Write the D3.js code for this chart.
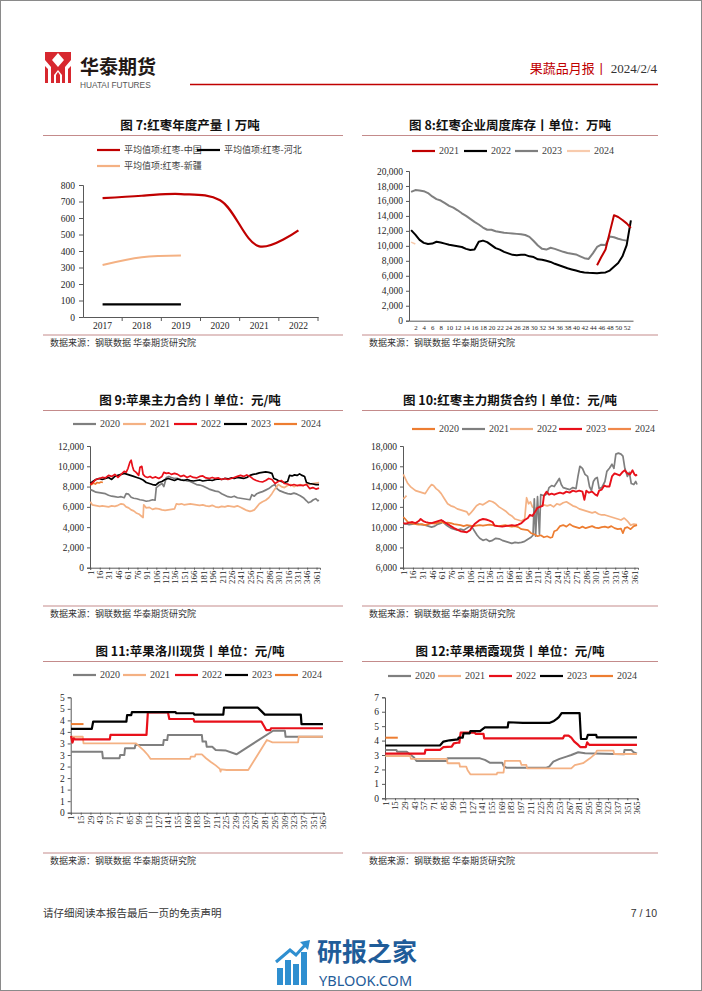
<!DOCTYPE html>
<html><head><meta charset="utf-8">
<script src="https://cdn.jsdelivr.net/npm/d3@7"></script>
<style>body{margin:0;background:#fff;} svg{display:block;}</style>
</head><body>
<svg id="page" width="702" height="991"></svg>
<script>
// ================= DATA =================
// Chart 7: annual jujube production (万吨)
const years7 = ['2017','2018','2019','2020','2021','2022'];
const prodChina = [720, 735, 745, 708, 428, 525];
const prodHebei = [77, 77, 77, null, null, null];
const prodXinjiang = [315, 362, 372, null, null, null];
const names7 = ['平均值项:红枣-中国', '平均值项:红枣-河北', '平均值项:红枣-新疆'];
const yTicks7 = [0, 100, 200, 300, 400, 500, 600, 700, 800];

// Chart 8: weekly jujube stock, by week number
const weekLabels8 = [2,4,6,8,10,12,14,16,18,20,22,24,26,28,30,32,34,36,38,40,42,44,46,48,50,52];
const stock2021 = [[45,7400],[46,8500],[47,9500],[48,11800],[49,14100],[50,13850],[51,13450],[52,13000],[53,12400]];
const stock2022 = [12100,11500,10800,10400,10250,10300,10550,10450,10300,10150,10050,9950,9850,9600,9450,9500,10550,10700,10500,10100,9700,9500,9200,9000,8800,8750,8800,8800,8600,8500,8200,8150,8000,7850,7600,7400,7200,7000,6850,6700,6550,6450,6400,6380,6350,6400,6450,6700,7200,7700,8600,10100,13400];
const stock2023 = [17200,17450,17400,17300,17050,16600,16250,16050,15700,15350,15100,14750,14350,14000,13600,13200,12850,12450,12150,12150,11950,11850,11750,11700,11650,11600,11550,11450,11200,10650,10050,9600,9500,9750,9600,9400,9200,9050,8950,8850,8600,8350,8250,9000,9850,10150,10100,11250,11150,10950,10800,10700];
const stock2024 = [10500, 10250];
const yTicks8 = [0,2000,4000,6000,8000,10000,12000,14000,16000,18000,20000];

// shared day tick labels
const dayLabels15 = [1,16,31,46,61,76,91,106,121,136,151,166,181,196,211,226,241,256,271,286,301,316,331,346,361];
const dayLabels14 = [1,15,29,43,57,71,85,99,113,127,141,155,169,183,197,211,225,239,253,267,281,295,309,323,337,351,365];
const yearNames = ['2020','2021','2022','2023','2024'];

// Chart 9: apple main futures contract [day, 元/吨]
const apple2020 = [[1,7700],[5,7600],[10,7450],[15,7400],[20,7350],[25,7300],[30,7150],[35,7050],[40,7000],[45,6950],[50,7000],[55,6900],[58,7300],[62,7250],[66,6950],[70,6850],[75,6800],[80,6700],[85,6650],[90,6550],[95,6600],[100,6700],[104,6650],[106,7900],[110,8100],[115,8300],[118,8000],[122,8900],[126,9000],[130,8900],[135,8800],[140,8800],[145,8700],[150,8650],[155,8550],[160,8500],[165,8350],[170,8200],[175,8150],[180,8050],[185,7900],[190,7750],[195,7650],[200,7550],[205,7500],[210,7300],[215,7150],[220,7000],[225,6950],[230,7050],[235,6900],[240,6850],[245,6800],[250,6750],[255,6700],[258,7200],[262,7050],[266,7300],[270,7400],[275,7500],[280,7650],[285,7800],[290,8050],[295,8200],[298,7800],[302,7600],[306,7500],[310,7400],[315,7300],[320,7250],[325,7350],[330,7250],[335,7100],[340,6900],[345,6600],[348,6400],[352,6500],[356,6700],[360,6800],[363,6600],[365,6650]];
const apple2021 = [[1,6500],[4,6200],[8,6150],[12,6100],[16,6050],[20,6100],[25,6050],[30,6000],[35,6100],[40,6050],[45,6150],[50,6300],[54,6250],[58,6000],[62,5900],[66,5700],[70,5600],[74,5400],[78,5300],[82,5100],[85,4950],[86,6200],[90,5900],[95,5950],[100,5750],[105,5850],[110,5800],[115,5700],[120,5650],[125,5700],[130,5750],[135,5800],[138,6300],[142,6250],[146,6300],[150,6200],[155,6250],[160,6300],[165,6250],[170,6200],[175,6150],[180,6200],[185,6100],[190,6050],[195,6150],[200,6000],[205,5950],[210,6050],[215,6000],[220,6100],[225,6050],[230,6000],[235,6100],[240,5950],[245,5800],[250,5650],[255,5550],[258,5600],[262,5700],[266,6000],[270,6300],[275,6500],[280,6650],[285,6900],[290,7300],[294,7700],[298,8000],[300,8200],[305,8000],[310,7900],[315,8100],[320,8200],[325,8000],[330,8100],[335,8200],[340,8100],[345,8250],[350,8200],[355,8300],[360,8350],[365,8400]];
const apple2022 = [[1,8200],[5,8400],[10,8700],[15,8800],[20,8900],[25,8850],[30,9100],[35,9000],[40,9200],[45,8900],[50,9200],[55,9500],[58,9400],[61,9800],[64,10400],[66,10600],[68,10000],[70,9600],[74,9400],[78,9100],[80,9900],[83,10000],[85,9200],[88,9000],[92,8900],[96,9000],[100,8850],[105,8950],[110,8800],[115,9000],[118,9400],[122,9300],[126,9350],[130,9200],[135,9300],[140,9200],[145,9000],[150,9100],[155,8900],[160,9050],[165,8900],[170,8850],[175,9000],[180,9050],[185,8850],[190,8800],[195,8900],[200,8800],[205,8850],[210,8700],[215,8800],[220,8700],[225,8800],[230,8900],[235,9000],[240,9100],[245,9000],[250,9150],[255,9000],[260,8750],[265,8600],[270,8500],[275,8450],[280,8600],[285,8800],[290,8700],[295,8300],[300,8500],[305,8600],[310,8300],[315,8250],[320,8100],[325,8200],[330,8100],[335,8150],[340,8100],[345,8200],[350,7800],[355,7900],[360,7750],[365,7850]];
const apple2023 = [[1,8300],[5,8500],[10,8700],[15,8800],[20,8700],[25,8800],[30,8900],[35,8700],[40,9000],[45,9100],[50,9200],[55,9300],[60,9200],[65,9100],[70,9000],[75,8900],[80,8800],[85,8650],[90,8400],[95,8300],[100,8200],[105,8150],[110,8400],[115,8500],[120,8700],[125,8800],[130,8700],[135,8600],[140,8750],[145,8650],[150,8600],[155,8700],[160,8600],[165,8550],[170,8600],[175,8650],[180,8550],[185,8600],[190,8650],[195,8600],[200,8700],[205,8750],[210,8700],[215,8800],[220,8750],[225,8850],[230,8800],[235,8900],[240,8850],[245,8800],[250,8900],[255,9100],[260,9200],[265,9250],[270,9350],[275,9400],[280,9450],[285,9400],[290,9300],[293,8800],[297,8700],[300,8600],[305,8500],[310,8400],[315,8500],[318,9100],[322,9050],[326,9150],[330,9100],[334,9250],[338,9100],[342,9000],[345,8400],[350,8300],[355,8250],[360,8200],[365,8200]];
const apple2024 = [[1,8300],[3,8200],[6,8350],[9,8250],[12,8400],[15,8350],[18,8450],[21,8400]];
const yTicks9 = [0,2000,4000,6000,8000,10000,12000];

// Chart 10: jujube main futures contract [day, 元/吨]
const jujube2020 = [[1,11000],[4,10800],[8,10500],[12,10400],[16,10350],[20,10300],[25,10250],[30,10300],[35,10200],[40,10300],[45,10400],[50,10350],[55,10450],[60,10500],[65,10400],[70,10450],[75,10400],[80,10300],[85,10250],[90,10200],[95,10100],[100,10200],[105,10150],[110,10100],[115,10150],[120,10200],[125,10150],[130,10200],[135,10250],[140,10200],[145,10150],[150,10100],[155,10150],[160,10200],[165,10100],[170,10050],[175,10100],[180,10000],[185,9800],[190,9750],[195,9700],[200,9400],[205,9300],[210,9100],[215,9200],[220,9000],[225,9100],[230,8950],[233,9000],[236,9600],[240,9700],[245,10100],[250,10200],[255,10050],[260,10300],[265,10100],[270,10000],[275,9900],[280,10050],[285,9900],[290,10000],[295,10100],[300,9950],[305,9900],[310,10000],[315,10050],[320,9950],[325,10100],[330,9900],[335,9800],[340,9850],[343,9400],[346,9900],[350,10000],[355,9800],[360,10100],[365,10200]];
const jujube2021 = [[1,10300],[5,10350],[10,10250],[15,10300],[20,10400],[25,10300],[30,10250],[35,10200],[40,10100],[45,10000],[50,10100],[55,10300],[60,10400],[63,10600],[66,10300],[70,10100],[75,9900],[80,9800],[85,9700],[90,9800],[95,9700],[100,9900],[105,10100],[108,10000],[112,9600],[116,9200],[120,8900],[125,8700],[130,8800],[135,8600],[140,8700],[145,8900],[150,8850],[155,8700],[160,8600],[165,8500],[170,8400],[175,8500],[180,8450],[185,8500],[190,8600],[195,8800],[200,9000],[203,9200],[205,12800],[207,9100],[210,13000],[213,9300],[215,13200],[220,13100],[225,13300],[228,13900],[232,14100],[236,14000],[240,14400],[244,14800],[247,14200],[250,13900],[255,13800],[260,13700],[265,13900],[270,13800],[273,15000],[276,16000],[280,15800],[284,15200],[288,15000],[291,14000],[294,13600],[297,14500],[300,14800],[303,14900],[306,13800],[310,13900],[315,14500],[318,15500],[322,15800],[326,16200],[329,15800],[332,17200],[336,17300],[340,17200],[343,17000],[346,15800],[350,15000],[353,15400],[356,14300],[360,14200],[363,14500],[365,14200]];
const jujube2022 = [[1,15200],[4,14800],[8,14300],[12,14000],[16,13800],[20,13600],[25,13500],[30,13400],[35,13300],[40,13800],[45,14200],[48,14100],[52,13800],[56,13600],[60,13300],[65,12800],[70,12300],[75,12100],[80,12000],[85,11800],[90,11700],[95,11600],[100,11500],[103,11200],[106,11400],[110,11700],[115,12100],[120,12300],[125,12200],[130,12400],[135,12600],[140,12500],[145,12300],[150,12000],[155,11800],[160,11600],[165,11300],[170,11100],[175,10800],[180,10700],[185,10600],[190,10800],[193,12900],[196,12300],[199,12500],[202,12000],[206,11800],[210,12000],[215,12100],[220,12200],[225,12100],[230,12200],[235,12000],[240,12300],[245,12200],[250,12400],[255,12500],[260,12300],[265,12100],[270,12000],[275,11800],[280,11700],[285,11600],[290,11500],[295,11400],[300,11500],[305,11300],[310,11200],[315,11200],[320,11100],[325,11000],[330,10900],[335,10800],[340,10700],[345,10900],[350,10600],[355,10200],[360,10300],[365,10250]];
const jujube2023 = [[1,10400],[5,10350],[10,10450],[15,10500],[20,10400],[25,10600],[28,10800],[32,10600],[36,10500],[40,10450],[45,10400],[50,10500],[55,10600],[60,10700],[65,10500],[70,10300],[75,10100],[80,9900],[85,9750],[90,9600],[95,9550],[100,9500],[105,9700],[108,10000],[112,10300],[116,10500],[120,10700],[125,10800],[130,10750],[135,10650],[140,10500],[143,10150],[148,10100],[155,10050],[160,10100],[165,10150],[170,10200],[175,10150],[180,10250],[185,10400],[190,10700],[195,10900],[198,11200],[202,11100],[206,11500],[210,11900],[214,12000],[218,12100],[220,13100],[224,13500],[228,13200],[232,13300],[236,13200],[240,13300],[245,13400],[250,13300],[255,13500],[260,13400],[265,13600],[270,13500],[275,13600],[280,13500],[283,12700],[286,13600],[290,13400],[295,13500],[300,13200],[303,13100],[306,13600],[310,13700],[314,14100],[318,14000],[322,14000],[326,15000],[330,15300],[334,15200],[338,15100],[342,15400],[346,15600],[350,15300],[354,15200],[358,15600],[361,15200],[363,15100],[365,15200]];
const jujube2024 = [[1,12800],[3,12900],[6,13100]];
const yTicks10 = [6000,8000,10000,12000,14000,16000,18000];

// Chart 11: Luochuan apple spot [day, price]
const lc2020 = [[1,2.64],[46,2.64],[47,2.36],[71,2.36],[72,2.5],[78,2.5],[79,2.79],[93,2.79],[94,2.93],[134,2.93],[135,3.15],[140,3.15],[141,3.37],[190,3.37],[191,3.08],[196,3.08],[197,2.86],[205,2.86],[210,2.72],[225,2.69],[240,2.53],[293,3.55],[310,3.55],[311,3.29],[365,3.29]];
const lc2021 = [[1,3.29],[18,3.29],[19,3.0],[95,3.0],[100,2.86],[106,2.7],[112,2.5],[116,2.33],[173,2.33],[174,2.43],[180,2.43],[181,2.53],[190,2.53],[196,2.36],[203,2.2],[210,2.05],[216,1.9],[217,1.78],[218,1.88],[226,1.85],[257,1.85],[284,3.15],[292,3.05],[329,3.05],[330,3.29],[365,3.29]];
const lc2022 = [[1,3.32],[3,3.04],[5,3.22],[7,3.18],[57,3.18],[58,3.37],[110,3.37],[112,4.35],[141,4.35],[143,4.06],[178,4.06],[179,3.95],[276,3.95],[283,3.58],[289,3.58],[290,3.66],[365,3.66]];
const lc2023 = [[1,3.63],[31,3.63],[33,3.95],[81,3.95],[82,4.23],[88,4.23],[89,4.36],[152,4.36],[153,4.31],[178,4.31],[179,4.25],[221,4.25],[222,4.55],[271,4.55],[276,4.4],[281,4.25],[333,4.25],[334,3.84],[365,3.84]];
const lc2024 = [[1,3.84],[19,3.84]];
const yTicks11 = [0,0.5,1,1.5,2,2.5,3,3.5,4,4.5,5];

// Chart 12: Qixia apple spot [day, price]
const qx2020 = [[1,3.35],[17,3.35],[18,3.23],[32,3.23],[36,3.07],[42,2.85],[46,2.59],[90,2.59],[91,2.77],[138,2.77],[145,2.66],[152,2.47],[170,2.47],[172,2.24],[176,2.12],[234,2.12],[238,2.2],[244,2.54],[253,2.73],[263,2.89],[270,3.0],[280,3.19],[290,3.12],[346,3.05],[347,3.35],[357,3.35],[360,3.2],[365,3.1]];
const qx2021 = [[1,2.93],[37,2.93],[38,2.73],[90,2.73],[91,2.43],[108,2.43],[109,2.19],[118,2.19],[120,1.95],[124,1.66],[162,1.66],[163,1.78],[172,1.78],[174,2.59],[196,2.59],[198,2.31],[205,2.31],[206,2.08],[270,2.08],[275,2.3],[287,2.43],[297,2.77],[305,3.1],[307,3.3],[331,3.3],[332,3.07],[365,3.07]];
const qx2022 = [[1,3.1],[58,3.1],[59,3.35],[80,3.35],[85,3.55],[97,3.58],[100,3.81],[105,3.85],[108,3.85],[110,4.55],[130,4.55],[132,4.46],[143,4.46],[144,4.16],[258,4.16],[260,4.35],[266,4.35],[270,4.2],[274,3.95],[280,3.7],[283,3.55],[291,3.55],[293,3.88],[296,3.7],[365,3.7]];
const qx2023 = [[1,3.66],[80,3.66],[85,3.93],[94,4.02],[106,4.09],[107,4.2],[113,4.2],[114,4.5],[123,4.5],[124,4.66],[138,4.66],[145,4.92],[178,4.92],[179,5.27],[200,5.23],[239,5.23],[245,5.36],[249,5.5],[252,5.62],[256,5.9],[282,5.9],[284,4.11],[292,4.11],[294,4.4],[306,4.4],[307,4.22],[365,4.22]];
const qx2024 = [[1,4.2],[19,4.2]];
const yTicks12 = [0,1,2,3,4,5,6,7];

// ================= STYLE / HELPERS =================
const F_CJK = "'Noto Sans CJK SC','Noto Sans',sans-serif";
const F_SERIF = "'Liberation Serif','Times New Roman',serif";
const AX = '#595959';
const RULE = '#C48B8B';
const C = {gray:'#7F7F7F', lorange:'#F4B183', red:'#E8101A', black:'#000000', orange:'#ED7D31', dred:'#C00000', peach:'#F8CBAD'};

const svg = d3.select('#page');
svg.append('rect').attr('x',0.5).attr('y',0.5).attr('width',701).attr('height',990)
  .attr('fill','#fff').attr('stroke','#8a8a8a');

function styleAxis(sel, fs){
  sel.select('.domain').attr('stroke', AX).attr('stroke-width',1);
  sel.selectAll('.tick line').attr('stroke', AX);
  sel.selectAll('.tick text').attr('fill','#262626').style('font-family',F_SERIF).style('font-size',(fs||9.5)+'px');
}
function title(text, cx, y, x0, x1){
  svg.append('text').attr('x',cx).attr('y',y).attr('text-anchor','middle')
    .style('font-family',F_CJK).style('font-weight','bold').style('font-size','12.5px').attr('fill','#111').text(text);
  svg.append('line').attr('x1',x0).attr('x2',x1).attr('y1',y+5.5).attr('y2',y+5.5).attr('stroke',RULE).attr('stroke-width',1);
}
function source(x0, x1, y){
  svg.append('line').attr('x1',x0).attr('x2',x1).attr('y1',y).attr('y2',y).attr('stroke',RULE).attr('stroke-width',1);
  svg.append('text').attr('x',x0+7).attr('y',y+11).style('font-family',F_CJK).style('font-size','9px').attr('fill','#333')
    .text('数据来源：钢联数据 华泰期货研究院');
}
function legend(items, y, font){
  const g = svg.append('g');
  items.forEach(it => {
    g.append('line').attr('x1',it.x).attr('x2',it.x+23).attr('y1',y).attr('y2',y)
      .attr('stroke',it.color).attr('stroke-width',2.2);
    g.append('text').attr('x',it.x+27).attr('y',y+3.4).style('font-family',font||F_SERIF)
      .style('font-size',(font?9:10)+'px').attr('fill','#404040').text(it.label);
  });
}
function drawPairs(x, y, pts, color, w, curve){
  const line = d3.line().defined(d=>d[1]!=null).x(d=>x(d[0])).y(d=>y(d[1])).curve(curve||d3.curveLinear);
  svg.append('path').datum(pts).attr('d',line).attr('fill','none').attr('stroke',color)
    .attr('stroke-width',w).attr('stroke-linejoin','round');
}
function dayChart(o){
  const x = d3.scaleLinear().domain([0.5,366.5]).range([o.x0,o.x1]);
  const y = d3.scaleLinear().domain(o.yDomain).range([o.yBottom,o.yTop]);
  const ya = svg.append('g').attr('transform',`translate(${o.x0},0)`)
    .call(d3.axisLeft(y).tickValues(o.yTicks).tickSize(3).tickPadding(3).tickFormat(o.fmt));
  styleAxis(ya, 9.5);
  const xa = svg.append('g').attr('transform',`translate(0,${o.yBottom})`)
    .call(d3.axisBottom(x).tickValues(o.xTicks).tickSize(2).tickFormat(d=>String(d)));
  styleAxis(xa, 8.8);
  xa.selectAll('.tick text').attr('transform','rotate(-90)').attr('text-anchor','end')
    .attr('x',-3).attr('y',0).attr('dy','0.32em');
  o.series.forEach(s => drawPairs(x, y, s.pts, s.color, s.w));
}

// ================= HEADER =================
const logo = svg.append('g');
logo.append('rect').attr('x',45).attr('y',52).attr('width',26).attr('height',31).attr('fill','#D7282F');
logo.append('path').attr('d','M58,53 L64,60 L58,67 L52,60 Z').attr('fill','#fff');
logo.append('path').attr('d','M45,60 L51,67 L51,83 L48,83 L48,69 L45,66 Z').attr('fill','#fff');
logo.append('path').attr('d','M71,60 L65,67 L65,83 L68,83 L68,69 L71,66 Z').attr('fill','#fff');
logo.append('path').attr('d','M58,70 L62,75 L62,83 L54,83 L54,75 Z').attr('fill','#fff');
logo.append('path').attr('d','M58,72 L60,75 L60,83 L56,83 L56,75 Z').attr('fill','#D7282F');
svg.append('text').attr('x',80).attr('y',74).style('font-family',F_CJK).style('font-weight','bold')
  .style('font-size','19px').attr('fill','#231815').text('华泰期货');
svg.append('text').attr('x',80).attr('y',88).style('font-family',"'Liberation Sans',sans-serif")
  .style('font-size','8.3px').attr('fill','#555').text('HUATAI FUTURES');
const hdr = svg.append('text').attr('x',657).attr('y',73).attr('text-anchor','end').style('font-size','13px');
hdr.append('tspan').style('font-family',F_CJK).attr('fill','#C00000').text('果蔬品月报丨 ');
hdr.append('tspan').style('font-family',F_SERIF).attr('fill','#333').text('2024/2/4');
svg.append('line').attr('x1',190).attr('x2',658).attr('y1',84.5).attr('y2',84.5).attr('stroke','#C00000').attr('stroke-width',1.5);

// ================= CHART 7 =================
title('图 7:红枣年度产量丨万吨', 190, 130, 43, 343);
legend([{x:97,label:names7[0],color:C.dred},{x:197,label:names7[1],color:C.black}], 150, F_CJK);
legend([{x:97,label:names7[2],color:C.lorange}], 166, F_CJK);
{
  const x = d3.scaleBand().domain(years7).range([83,318]);
  const y = d3.scaleLinear().domain([0,800]).range([317,185]);
  const ya = svg.append('g').attr('transform','translate(83,0)')
    .call(d3.axisLeft(y).tickValues(yTicks7).tickSize(4).tickPadding(4));
  styleAxis(ya, 9.5);
  const xa = svg.append('g').attr('transform','translate(0,317)').call(d3.axisBottom(x).tickSize(0).tickPadding(5));
  styleAxis(xa, 9.5);
  xa.selectAll('.bt').data(years7).join('line').attr('class','bt')
    .attr('x1',d=>x(d)+x.bandwidth()).attr('x2',d=>x(d)+x.bandwidth()).attr('y1',0).attr('y2',4).attr('stroke',AX);
  const cx = d => x(d)+x.bandwidth()/2;
  const mk = vals => years7.map((yr,i)=>[yr, vals[i]]);
  const line = d3.line().defined(d=>d[1]!=null).x(d=>cx(d[0])).y(d=>y(d[1])).curve(d3.curveCatmullRom.alpha(0.5));
  [[prodXinjiang,C.lorange,2],[prodHebei,C.black,2.2],[prodChina,C.dred,2.2]].forEach(([v,c,w])=>{
    svg.append('path').datum(mk(v)).attr('d',line).attr('fill','none').attr('stroke',c).attr('stroke-width',w);
  });
}
source(43, 343, 335);

// ================= CHART 8 =================
title('图 8:红枣企业周度库存丨单位：万吨', 510, 130, 362, 658);
legend([{x:412,label:'2021',color:C.dred},{x:464,label:'2022',color:C.black},{x:515,label:'2023',color:C.gray},{x:567,label:'2024',color:C.peach}], 151);
{
  const x = d3.scaleLinear().domain([0.5,53.5]).range([409,633]);
  const y = d3.scaleLinear().domain([0,20000]).range([320.7,171]);
  const ya = svg.append('g').attr('transform','translate(409,0)')
    .call(d3.axisLeft(y).tickValues(yTicks8).tickSize(3).tickPadding(3).tickFormat(d3.format(',')));
  styleAxis(ya, 9.5);
  const xa = svg.append('g').attr('transform','translate(0,320.7)')
    .call(d3.axisBottom(x).tickValues(weekLabels8).tickSize(0).tickPadding(4).tickFormat(d=>String(d)));
  styleAxis(xa, 6.8);
  drawPairs(x, y, stock2024.map((v,i)=>[i+1,v]), C.peach, 1.6);
  drawPairs(x, y, stock2023.map((v,i)=>[i+1,v]), C.gray, 2);
  drawPairs(x, y, stock2022.map((v,i)=>[i+1,v]), C.black, 2);
  drawPairs(x, y, stock2021, C.dred, 2);
}
source(362, 658, 335);

// ================= CHART 9 =================
title('图 9:苹果主力合约丨单位：元/吨', 190, 405, 43, 343);
legend([{x:73,label:yearNames[0],color:C.gray},{x:123,label:yearNames[1],color:C.lorange},{x:174,label:yearNames[2],color:C.red},{x:224,label:yearNames[3],color:C.black},{x:274,label:yearNames[4],color:C.orange}], 424);
dayChart({x0:90, x1:320, yBottom:567.7, yTop:446, yDomain:[0,12000], yTicks:yTicks9, fmt:d3.format(','), xTicks:dayLabels15,
  series:[{pts:apple2020,color:C.gray,w:1.7},{pts:apple2021,color:C.lorange,w:1.7},{pts:apple2024,color:C.orange,w:1.7},
          {pts:apple2023,color:C.black,w:1.7},{pts:apple2022,color:C.red,w:1.7}]});
source(43, 343, 606);

// ================= CHART 10 =================
title('图 10:红枣主力期货合约丨单位：元/吨', 510, 405, 362, 658);
legend([{x:412,label:yearNames[0],color:C.orange},{x:462,label:yearNames[1],color:C.gray},{x:510,label:yearNames[2],color:C.lorange},{x:559,label:yearNames[3],color:C.red},{x:608,label:yearNames[4],color:'#F0884A'}], 429);
dayChart({x0:403, x1:638, yBottom:567.7, yTop:446, yDomain:[6000,18000], yTicks:yTicks10, fmt:d3.format(','), xTicks:dayLabels15,
  series:[{pts:jujube2022,color:C.lorange,w:1.7},{pts:jujube2021,color:C.gray,w:1.7},{pts:jujube2020,color:C.orange,w:1.7},
          {pts:jujube2024,color:'#F4B183',w:1.7},{pts:jujube2023,color:C.red,w:1.9}]});
source(362, 658, 606);

// ================= CHART 11 =================
title('图 11:苹果洛川现货丨单位：元/吨', 190, 656, 43, 343);
legend([{x:73,label:yearNames[0],color:C.gray},{x:123,label:yearNames[1],color:C.lorange},{x:175,label:yearNames[2],color:C.red},{x:225,label:yearNames[3],color:C.black},{x:275,label:yearNames[4],color:C.orange}], 675);
dayChart({x0:70.7, x1:324, yBottom:812.7, yTop:697.3, yDomain:[0,5], yTicks:yTicks11, fmt:d=>String(Math.round(d)), xTicks:dayLabels14,
  series:[{pts:lc2020,color:C.gray,w:2},{pts:lc2021,color:C.lorange,w:1.8},{pts:lc2024,color:C.orange,w:2},
          {pts:lc2022,color:C.red,w:2.2},{pts:lc2023,color:C.black,w:2.2}]});
source(43, 343, 853);

// ================= CHART 12 =================
title('图 12:苹果栖霞现货丨单位：元/吨', 510, 656, 362, 658);
legend([{x:388,label:yearNames[0],color:C.gray},{x:438,label:yearNames[1],color:C.lorange},{x:489,label:yearNames[2],color:C.red},{x:540,label:yearNames[3],color:C.black},{x:590,label:yearNames[4],color:C.orange}], 676);
dayChart({x0:385, x1:638, yBottom:798.3, yTop:697.3, yDomain:[0,7], yTicks:yTicks12, fmt:d=>String(d), xTicks:dayLabels14,
  series:[{pts:qx2020,color:C.gray,w:2},{pts:qx2021,color:C.lorange,w:1.8},{pts:qx2024,color:C.orange,w:2},
          {pts:qx2022,color:C.red,w:2.2},{pts:qx2023,color:C.black,w:2.2}]});
source(362, 658, 853);

// ================= FOOTER =================
svg.append('text').attr('x',43).attr('y',917).style('font-family',F_CJK).style('font-size','10.5px').attr('fill','#333')
  .text('请仔细阅读本报告最后一页的免责声明');
svg.append('text').attr('x',657).attr('y',917).attr('text-anchor','end').style('font-family',"'Liberation Sans',sans-serif")
  .style('font-size','10.5px').attr('fill','#333').text('7 / 10');
const wm = svg.append('g');
[[277,968,6,17],[285,960,6,25],[293,964,6,21],[301,952,6,33]].forEach(([x,y,w,h])=>{
  wm.append('rect').attr('x',x).attr('y',y).attr('width',w).attr('height',h).attr('fill','#2F8FD0');
});
wm.append('path').attr('d','M276,962 L290,950 L296,955 L306,944').attr('fill','none').attr('stroke','#2F8FD0').attr('stroke-width',3);
wm.append('path').attr('d','M300,942 L310,940 L308,950 Z').attr('fill','#2F8FD0');
svg.append('text').attr('x',317).attr('y',961).style('font-family',F_CJK).style('font-weight','bold')
  .style('font-size','25px').attr('fill','#1F5C99').text('研报之家');
svg.append('text').attr('x',319).attr('y',986).style('font-family',"'Noto Sans',sans-serif")
  .style('font-size','14.5px').attr('fill','#1F5C99').text('YBLOOK.COM');
</script>
</body></html>
